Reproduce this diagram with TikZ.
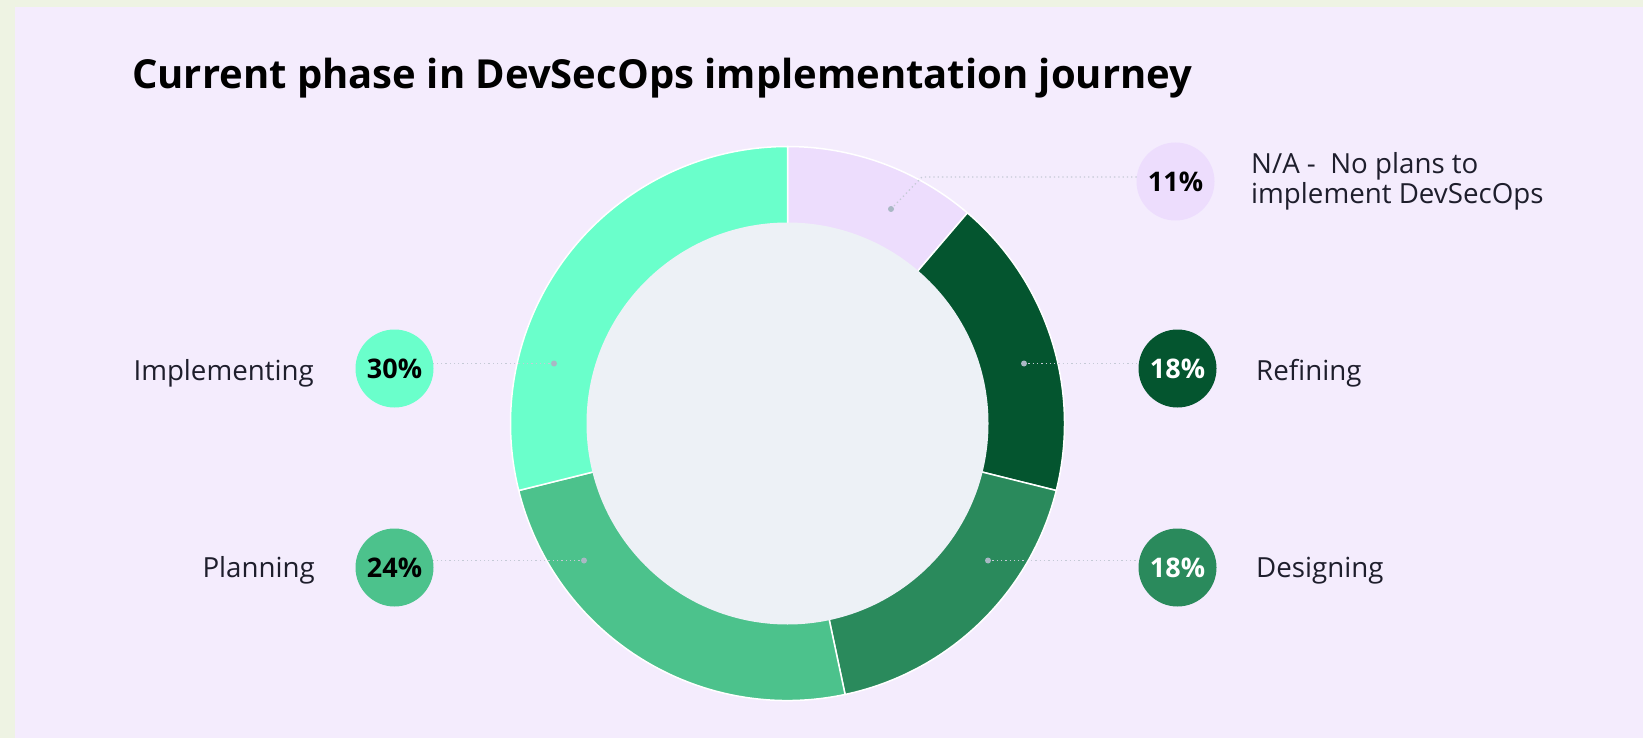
\documentclass[tikz,border=0pt]{standalone}
\usepackage{fontspec}
\setmainfont{Open Sans}
\usetikzlibrary{calc}

\definecolor{pagebg}{HTML}{EEF3E3}
\definecolor{panel}{HTML}{F4ECFD}
\definecolor{hole}{HTML}{EDF1F6}
\definecolor{segna}{HTML}{EDDDFD}
\definecolor{segref}{HTML}{04552F}
\definecolor{segdes}{HTML}{2A8A5C}
\definecolor{segplan}{HTML}{4CC28C}
\definecolor{segimpl}{HTML}{6AFFCB}
\definecolor{leadc}{HTML}{C5CAD6}
\definecolor{dotc}{HTML}{A9B8C4}
\definecolor{ink}{HTML}{1E1E2C}

\tikzset{
  seg/.style={draw=white, line width=1.5pt},
  leader/.style={draw=leadc, line width=1.3pt, dash pattern=on 1.3pt off 3pt},
  enddot/.style={circle, fill=dotc, inner sep=0pt, minimum size=6pt},
  pct/.style={circle, minimum size=78pt, inner sep=0pt, font=\fontsize{27}{30}\selectfont\bfseries},
  lbl/.style={inner sep=0pt, text=ink, font=\fontsize{27.7}{30}\selectfont},
  ttl/.style={inner sep=0pt, anchor=base west, font=\fontsize{40}{48}\selectfont\bfseries}
}

\begin{document}
\begin{tikzpicture}[x=1pt, y=-1pt]
  % page and panel
  \useasboundingbox (0,0) rectangle (1643,738);
  \fill[pagebg] (0,0) rectangle (1643,738);
  \fill[panel] (15,7) rectangle (1643,738);

  % title
  \node[ttl] (title) at (132,89) {Current phase in DevSecOps implementation journey};

  % donut ring (angles in the usual counter-clockwise sense)
  \coordinate (C) at (787.5,423.5);
  \filldraw[seg, fill=segna]   (C) -- ++(49.5:277pt) arc[start angle=49.5, end angle=90,  radius=277pt] -- cycle;
  \filldraw[seg, fill=segref]  (C) -- ++(-14:277pt)  arc[start angle=-14,  end angle=49.5, radius=277pt] -- cycle;
  \filldraw[seg, fill=segdes]  (C) -- ++(-78:277pt)  arc[start angle=-78,  end angle=-14, radius=277pt] -- cycle;
  \filldraw[seg, fill=segplan] (C) -- ++(194:277pt)  arc[start angle=194,  end angle=282, radius=277pt] -- cycle;
  \filldraw[seg, fill=segimpl] (C) -- ++(90:277pt)   arc[start angle=90,   end angle=194, radius=277pt] -- cycle;
  \fill[hole] (C) circle[radius=201pt];

  % leader end points inside the ring
  \coordinate (dna)   at (891,209);
  \coordinate (dref)  at (1024,363.5);
  \coordinate (ddes)  at (988,560.5);
  \coordinate (dplan) at (584,560.5);
  \coordinate (dimpl) at (554,363.5);
  \coordinate (kna)   at (922,177);

  % badge centres
  \coordinate (cna)   at (1175.5,181.5);
  \coordinate (cref)  at (1177.5,368.5);
  \coordinate (cdes)  at (1177.5,567.5);
  \coordinate (cplan) at (394.5,567.5);
  \coordinate (cimpl) at (394.5,368.5);

  % dotted leaders
  \draw[leader] (dna) -- (kna) -- (kna -| cna);
  \draw[leader] (dref) -- (dref -| cref);
  \draw[leader] (ddes) -- (ddes -| cdes);
  \draw[leader] (dplan) -- (dplan -| cplan);
  \draw[leader] (dimpl) -- (dimpl -| cimpl);
  \node[enddot] (ena)   at (dna) {};
  \node[enddot] (eref)  at (dref) {};
  \node[enddot] (edes)  at (ddes) {};
  \node[enddot] (eplan) at (dplan) {};
  \node[enddot] (eimpl) at (dimpl) {};

  % percentage badges
  \node[pct, fill=segna, text=black]   (pna)   at (cna)   {11\%};
  \node[pct, fill=segref, text=white]  (pref)  at (cref)  {18\%};
  \node[pct, fill=segdes, text=white]  (pdes)  at (cdes)  {18\%};
  \node[pct, fill=segplan, text=black] (pplan) at (cplan) {24\%};
  \node[pct, fill=segimpl, text=black] (pimpl) at (cimpl) {30\%};

  % category labels (a two-line node sits on its last baseline)
  \node[lbl, anchor=base west, align=left] (lna) at (1251,203.5)
    {N/A -\ \ No plans to\\implement DevSecOps};
  \node[lbl, anchor=base west] (lref)  at (1256,380) {Refining};
  \node[lbl, anchor=base west] (ldes)  at (1256,577) {Designing};
  \node[lbl, anchor=base east] (lplan) at (315,577) {Planning};
  \node[lbl, anchor=base east] (limpl) at (314,380) {Implementing};
\end{tikzpicture}
\end{document}
